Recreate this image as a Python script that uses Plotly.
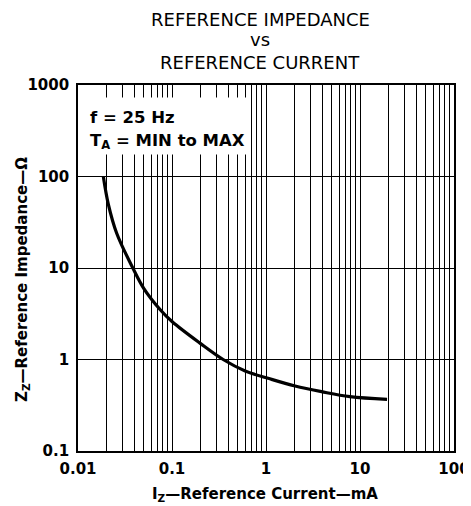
import plotly.graph_objects as go

# Data
current_mA = [0.0186, 0.021, 0.0258, 0.0383, 0.05, 0.075, 0.1, 0.2, 0.35,
              0.6, 1.1, 2.04, 3.9, 7.8, 19.4]
impedance_ohm = [100, 50, 24, 10, 6.0, 3.5, 2.6, 1.5, 1.0,
                 0.75, 0.615, 0.513, 0.445, 0.392, 0.367]

x_decades = [0.01, 0.1, 1, 10, 100]
x_decade_labels = ["0.01", "0.1", "1", "10", "100"]
y_ticks = [0.1, 1, 10, 100, 1000]
y_tick_labels = ["0.1", "1", "10", "100", "1000"]

title_lines = ["REFERENCE IMPEDANCE", "vs", "REFERENCE CURRENT"]
x_title = "<b>I<sub>Z</sub>\u2014Reference Current\u2014mA</b>"
y_title = "<b>Z<sub>Z</sub>\u2014Reference Impedance\u2014\u03a9</b>"
cond_lines = ["<b>f = 25 Hz</b>", "<b>T<sub>A</sub> = MIN to MAX</b>"]

# x grid at every 1..9 multiple of each decade
x_tickvals, x_ticktext = [], []
for d, lab in zip(x_decades, x_decade_labels):
    x_tickvals.append(d)
    x_ticktext.append(lab)
    if d < 100:
        for m in range(2, 10):
            x_tickvals.append(d * m)
            x_ticktext.append("")

FONT = "DejaVu Sans"
fig = go.Figure()
fig.add_trace(go.Scatter(
    x=current_mA, y=impedance_ohm, mode="lines",
    line=dict(color="black", width=3.2, shape="spline", smoothing=1.0),
    showlegend=False, hoverinfo="skip"))

# the page body has an 8px default margin, so the figure is drawn 8px in
OFF = 8
W, H = 471 - OFF, 506 - OFF
ml, mr, mt, mb = 78 - OFF, 17, 85 - OFF, 55
ph = H - mt - mb
pw = W - ml - mr


def py(p):  # screen pixel y -> paper y
    return (H - mb - (p - OFF)) / ph


def px(p):  # screen pixel x -> paper x
    return ((p - OFF) - ml) / pw


fig.update_layout(
    width=W, height=H,
    margin=dict(l=ml, r=mr, t=mt, b=mb, autoexpand=False),
    paper_bgcolor="white", plot_bgcolor="white",
    font=dict(family=FONT, color="black"),
    xaxis=dict(
        type="log", range=[-2, 2], automargin=False,
        tickmode="array", tickvals=x_tickvals, ticktext=x_ticktext,
        ticks="", showgrid=True, gridcolor="black", gridwidth=1.3,
        showline=True, linecolor="black", linewidth=1.6, mirror=True,
        tickfont=dict(family=FONT, size=15, color="black", weight="bold"),
        ticklabelstandoff=3, zeroline=False),
    yaxis=dict(
        type="log", range=[-1, 3], automargin=False,
        tickmode="array", tickvals=y_ticks, ticktext=y_tick_labels,
        ticks="", showgrid=True, gridcolor="black", gridwidth=1.3,
        showline=True, linecolor="black", linewidth=1.6, mirror=True,
        tickfont=dict(family=FONT, size=15, color="black", weight="bold"),
        ticklabelstandoff=4, zeroline=False),
)

# chart title (three centred lines); first line anchored at the figure top
fig.add_annotation(
    xref="paper", yref="paper", x=px(260), y=py(OFF),
    xanchor="center", yanchor="top", text=title_lines[0], showarrow=False,
    borderpad=0, font=dict(family=FONT, size=18, color="black"))
for txt, yc in zip(title_lines[1:], [40, 63]):
    fig.add_annotation(
        xref="paper", yref="paper", x=px(260), y=py(yc),
        xanchor="center", yanchor="middle", text=txt, showarrow=False,
        borderpad=0, font=dict(family=FONT, size=18, color="black"))

# axis titles
fig.add_annotation(
    xref="paper", yref="paper", x=px(265), y=py(494),
    xanchor="center", yanchor="middle", text=x_title, showarrow=False,
    borderpad=0, font=dict(family=FONT, size=15, color="black"))
fig.add_annotation(
    xref="paper", yref="paper", x=px(22), y=py(280),
    xanchor="center", yanchor="middle", text=y_title, showarrow=False,
    borderpad=0, textangle=-90, font=dict(family=FONT, size=15, color="black"))

# white box behind the condition text
fig.add_annotation(
    xref="paper", yref="paper", x=0, y=py(97),
    xanchor="left", yanchor="top", xshift=2,
    text=" ", showarrow=False, width=166, height=56,
    bgcolor="white", borderpad=0)
for txt, yc in zip(cond_lines, [117, 142]):
    fig.add_annotation(
        xref="paper", yref="paper", x=0, y=py(yc),
        xanchor="left", yanchor="middle", xshift=10,
        text=txt, showarrow=False, align="left",
        font=dict(family=FONT, size=16.5, color="black"))

fig.write_html("out.html")
